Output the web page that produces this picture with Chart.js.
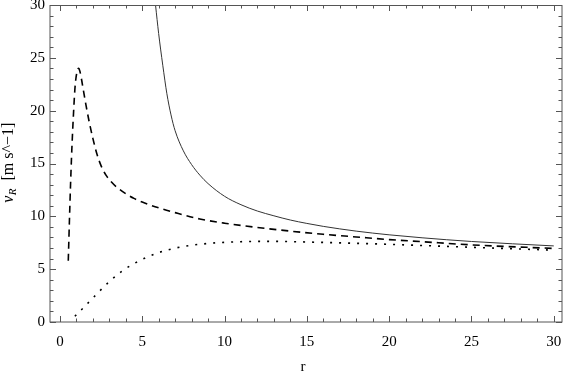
<!DOCTYPE html>
<html>
<head>
    <title>v_R versus r</title>
    <script src="https://cdn.jsdelivr.net/npm/chart.js@4/dist/chart.umd.min.js"></script>
    <style>
        html, body {
            margin: 0;
            padding: 0;
            background: white;
        }
        #wrap {
            width: 564px;
            height: 375px;
        }
    </style>
</head>
<body>
    <div id="wrap"><canvas id="vr"></canvas></div>

    <script>
        // Values
        const solidR = [5.81, 6.0, 6.25, 6.5, 6.75, 7.0, 7.5, 8.0, 8.5, 9.0, 10, 11, 12, 13, 14, 15, 16, 18, 20, 22, 25, 30];
        const solidV = [30, 27.3, 24.3, 21.6, 19.6, 18.1, 16.2, 14.9, 13.9, 13.1, 11.9, 11.1, 10.5, 10.05, 9.65, 9.33, 9.05, 8.6, 8.25, 7.97, 7.62, 7.2];

        const dashedR = [0.51, 0.58, 0.65, 0.71, 0.77, 0.84, 0.91, 0.97, 1.03, 1.1, 1.15, 1.22, 1.3, 1.42, 1.6, 1.8, 2.0, 2.25, 2.5, 2.8, 3.1, 3.5, 4.0, 4.5, 5.0, 6.0, 7.0, 8.5, 10, 12, 14, 16, 18, 20, 22, 25, 30];
        const dashedV = [5.8, 9.6, 13.1, 15.7, 17.9, 20.1, 22.0, 23.0, 23.6, 23.95, 24.0, 23.7, 23.1, 22.0, 20.4, 18.8, 17.4, 15.9, 14.8, 13.9, 13.3, 12.7, 12.15, 11.7, 11.35, 10.8, 10.35, 9.75, 9.35, 8.95, 8.6, 8.3, 8.05, 7.8, 7.6, 7.3, 6.96];

        const dottedR = [0.91, 1.4, 1.9, 2.4, 2.93, 3.4, 3.85, 4.3, 4.86, 5.4, 5.87, 6.5, 7.08, 8.1, 9, 10, 11, 12, 13, 15, 17, 19.43, 22, 25, 30];
        const dottedV = [0.54, 1.3, 2.1, 2.9, 3.72, 4.35, 4.9, 5.35, 5.82, 6.2, 6.5, 6.8, 7.02, 7.28, 7.43, 7.54, 7.6, 7.63, 7.63, 7.57, 7.49, 7.38, 7.24, 7.07, 6.8];

        const xTicks = [0, 5, 10, 15, 20, 25, 30];
        const yTicks = [0, 5, 10, 15, 20, 25, 30];

        const pts = (rs, vs) => rs.map((r, i) => ({ x: r, y: vs[i] }));

        // frame with inward ticks on all four sides, tick labels and axis titles
        const framePlugin = {
            id: 'frame',
            afterDraw(chart) {
                const ctx = chart.ctx;
                const a = chart.chartArea;
                const xs = chart.scales.x;
                const ys = chart.scales.y;
                ctx.save();

                ctx.strokeStyle = '#555';
                ctx.lineWidth = 1;
                ctx.strokeRect(a.left, a.top + 0.5, a.right - a.left, a.bottom - a.top - 0.5);

                ctx.beginPath();
                for (let v = 0; v <= 30; v++) {
                    const len = v % 5 === 0 ? 6 : 3.5;
                    const px = Math.round(xs.getPixelForValue(v)) + 0.5;
                    ctx.moveTo(px, a.bottom); ctx.lineTo(px, a.bottom - len);
                    ctx.moveTo(px, a.top); ctx.lineTo(px, a.top + len);
                    const py = Math.round(ys.getPixelForValue(v)) + 0.5;
                    ctx.moveTo(a.left, py); ctx.lineTo(a.left + len, py);
                    ctx.moveTo(a.right, py); ctx.lineTo(a.right - len, py);
                }
                ctx.stroke();

                ctx.fillStyle = '#000';
                ctx.font = '15px "Liberation Serif"';
                ctx.textAlign = 'center';
                ctx.textBaseline = 'alphabetic';
                xTicks.forEach(t => ctx.fillText(String(t), xs.getPixelForValue(t), 346));
                ctx.textAlign = 'right';
                ctx.textBaseline = 'middle';
                yTicks.forEach(t => ctx.fillText(String(t), 45, ys.getPixelForValue(t)));

                // x title
                ctx.textAlign = 'center';
                ctx.textBaseline = 'alphabetic';
                ctx.fillText('r', 303, 371);

                // y title: italic v with subscript R, then units
                ctx.translate(13, 163);
                ctx.rotate(-Math.PI / 2);
                const unit = '[m s^\u22121]';
                ctx.font = 'italic 16px "Liberation Serif"';
                const wv = ctx.measureText('v').width;
                ctx.font = 'italic 11px "Liberation Serif"';
                const wr = ctx.measureText('R').width;
                ctx.font = '16px "Liberation Serif"';
                const gap = ctx.measureText('  ').width;
                const wu = ctx.measureText(unit).width;
                let x0 = -(wv + wr + gap + wu) / 2;
                ctx.textAlign = 'left';
                ctx.font = 'italic 16px "Liberation Serif"';
                ctx.fillText('v', x0, 0);
                x0 += wv + 0.5;
                ctx.font = 'italic 11px "Liberation Serif"';
                ctx.fillText('R', x0, 3);
                x0 += wr + gap;
                ctx.font = '16px "Liberation Serif"';
                ctx.fillText(unit, x0, 0);

                ctx.restore();
            }
        };

        new Chart(document.getElementById('vr'), {
            type: 'line',
            data: {
                datasets: [
                    {
                        label: 'solid',
                        data: pts(solidR, solidV),
                        borderColor: '#333',
                        borderWidth: 1,
                        pointRadius: 0,
                        cubicInterpolationMode: 'monotone'
                    },
                    {
                        label: 'dashed',
                        data: pts(dashedR, dashedV),
                        borderColor: '#000',
                        borderWidth: 1.6,
                        borderDash: [7, 5],
                        pointRadius: 0,
                        cubicInterpolationMode: 'monotone'
                    },
                    {
                        label: 'dotted',
                        data: pts(dottedR, dottedV),
                        borderColor: '#000',
                        borderWidth: 1.6,
                        borderDash: [2, 7],
                        pointRadius: 0,
                        cubicInterpolationMode: 'monotone'
                    }
                ]
            },
            options: {
                responsive: true,
                maintainAspectRatio: false,
                animation: false,
                layout: {
                    padding: { left: 50, right: 2, top: 5, bottom: 53 }
                },
                plugins: {
                    legend: { display: false },
                    tooltip: { enabled: false }
                },
                scales: {
                    x: { type: 'linear', min: -0.6, max: 30.5, display: false },
                    y: { type: 'linear', min: 0, max: 30, display: false }
                }
            },
            plugins: [framePlugin]
        });
    </script>
</body>
</html>
